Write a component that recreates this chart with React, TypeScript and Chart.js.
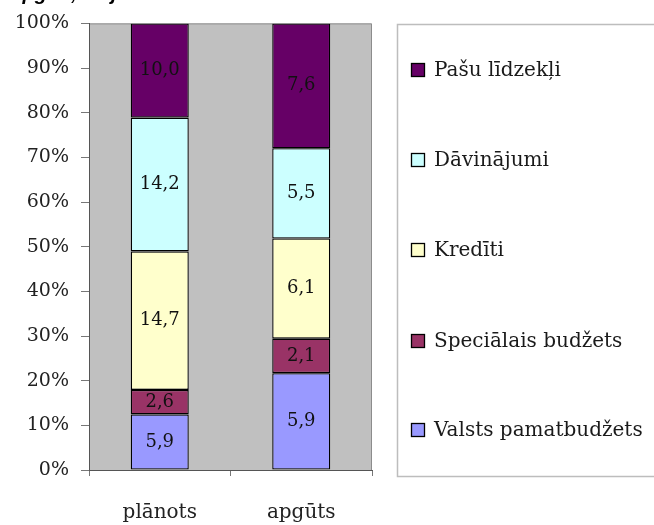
import React, { useEffect, useRef } from "react";
import { Chart, registerables } from "chart.js";

Chart.register(...registerables);

const categories = ["plānots", "apgūts"];
const seriesNames = ["Valsts pamatbudžets", "Speciālais budžets", "Kredīti", "Dāvinājumi", "Pašu līdzekļi"];
const valstsPamatbudzets = [5.9, 5.9];
const specialaisBudzets = [2.6, 2.1];
const krediti = [14.7, 6.1];
const davinajumi = [14.2, 5.5];
const pasuLidzekli = [10.0, 7.6];
const seriesColors = ["#9999FF", "#993366", "#FFFFCC", "#CCFFFF", "#660066"];
const yTickStep = 10;
const titleText = "Apgūti, milj. latu";

const SERIF = "'DejaVu Serif', 'Liberation Serif', serif";

export default function App() {
  const ref = useRef<HTMLCanvasElement | null>(null);

  useEffect(() => {
    document.body.style.margin = "0";
    const canvas = ref.current;
    if (!canvas) return;

    const raw = [valstsPamatbudzets, specialaisBudzets, krediti, davinajumi, pasuLidzekli];
    const totals = categories.map((_, i) => raw.reduce((s, arr) => s + arr[i], 0));

    const datasets = raw.map((arr, k) => ({
      label: seriesNames[k],
      data: arr.map((v, i) => (v / totals[i]) * 100),
      rawValues: arr,
      backgroundColor: seriesColors[k],
      borderColor: "#000000",
      borderWidth: 1.3,
      borderSkipped: false,
      barPercentage: 0.41,
      categoryPercentage: 1,
    }));

    const bgPlugin = {
      id: "plotBg",
      beforeDraw(chart: any) {
        const { ctx, chartArea: a } = chart;
        ctx.save();
        ctx.fillStyle = "#C0C0C0";
        ctx.fillRect(a.left, a.top, a.right - a.left, a.bottom - a.top);
        ctx.strokeStyle = "#8c8c8c";
        ctx.lineWidth = 1;
        ctx.beginPath();
        ctx.moveTo(a.left, a.top + 0.5);
        ctx.lineTo(a.right - 0.5, a.top + 0.5);
        ctx.lineTo(a.right - 0.5, a.bottom);
        ctx.stroke();
        ctx.restore();
      },
    };

    const labelsPlugin = {
      id: "segLabels",
      afterDatasetsDraw(chart: any) {
        const { ctx } = chart;
        ctx.save();
        ctx.font = `18px ${SERIF}`;
        ctx.fillStyle = "#111";
        ctx.textAlign = "center";
        ctx.textBaseline = "middle";
        chart.data.datasets.forEach((ds: any, di: number) => {
          const meta = chart.getDatasetMeta(di);
          meta.data.forEach((bar: any, i: number) => {
            const v = ds.rawValues[i];
            const y = (bar.y + bar.base) / 2;
            ctx.fillText(v.toFixed(1).replace(".", ","), bar.x, y);
          });
        });
        ctx.restore();
      },
    };

    const legendPlugin = {
      id: "customLegend",
      afterDraw(chart: any) {
        const { ctx } = chart;
        ctx.save();
        ctx.strokeStyle = "#bdbdbd";
        ctx.lineWidth = 1.5;
        ctx.strokeRect(397.5, 24.5, 300, 452);
        const centers = [70, 160, 250, 341, 430];
        ctx.font = `20px ${SERIF}`;
        ctx.textBaseline = "middle";
        ctx.textAlign = "left";
        for (let j = 0; j < 5; j++) {
          const k = 4 - j;
          const cy = centers[j];
          ctx.fillStyle = seriesColors[k];
          ctx.fillRect(411.5, cy - 6.5, 13, 13);
          ctx.strokeStyle = "#000";
          ctx.lineWidth = 1.3;
          ctx.strokeRect(411.5, cy - 6.5, 13, 13);
          ctx.fillStyle = "#1a1a1a";
          ctx.fillText(seriesNames[k], 434, cy + 1);
        }
        // cut-off title at the very top
        ctx.font = `bold italic 20px 'Liberation Sans', Arial, sans-serif`;
        ctx.fillStyle = "#000";
        ctx.textBaseline = "alphabetic";
        ctx.fillText(titleText, 8, 0);
        ctx.restore();
      },
    };

    const chart = new Chart(canvas, {
      type: "bar",
      data: { labels: categories, datasets: datasets as any },
      options: {
        responsive: false,
        animation: false,
        layout: { padding: { top: 19, right: 282, left: 0, bottom: 0 } },
        plugins: {
          legend: { display: false },
          tooltip: { enabled: false },
          title: { display: false },
        },
        scales: {
          x: {
            stacked: true,
            offset: true,
            grid: {
              offset: true,
              drawOnChartArea: false,
              drawTicks: true,
              tickLength: 6,
              color: "#777",
            },
            border: { display: true, color: "#555", width: 1 },
            ticks: {
              color: "#222",
              font: { family: SERIF, size: 20 },
              padding: 25,
            },
            afterFit(scale: any) {
              scale.height = 55;
            },
          },
          y: {
            stacked: true,
            min: 0,
            max: 100,
            grid: {
              drawOnChartArea: false,
              drawTicks: true,
              tickLength: 8,
              color: "#777",
            },
            border: { display: true, color: "#555", width: 1 },
            ticks: {
              stepSize: yTickStep,
              color: "#222",
              font: { family: SERIF, size: 19 },
              padding: 12,
              callback: (v: any) => `${v}%`,
            },
            afterFit(scale: any) {
              scale.width = 89;
            },
          },
        },
      },
      plugins: [bgPlugin, labelsPlugin, legendPlugin],
    });

    return () => chart.destroy();
  }, []);

  return (
    <canvas
      ref={ref}
      width={654}
      height={525}
      style={{ display: "block", width: 654, height: 525 }}
    />
  );
}
